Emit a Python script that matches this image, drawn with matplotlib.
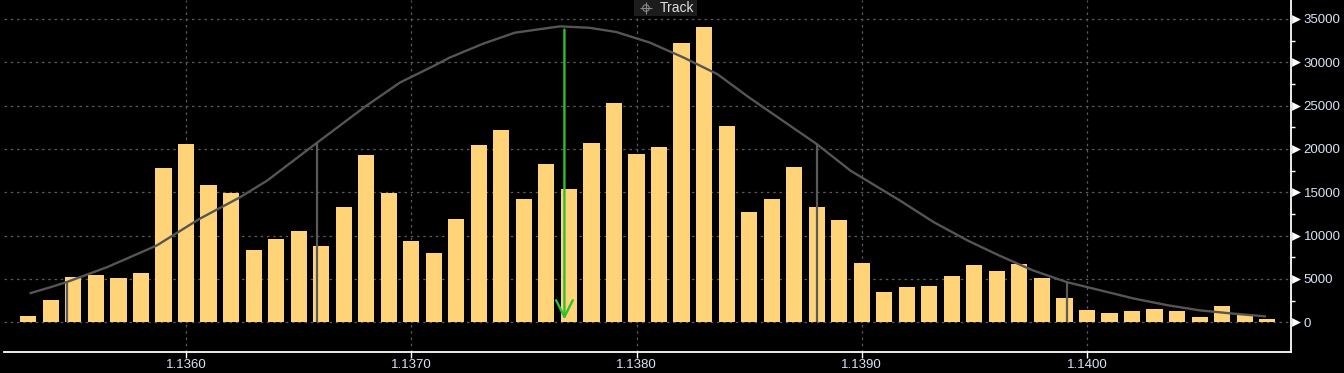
import numpy as np
import matplotlib.pyplot as plt
from matplotlib.patches import Rectangle
from matplotlib.transforms import blended_transform_factory

# volume profile bars (price bucket centres, volume)
bar_start = 1.1353
bar_step = 0.0001
volumes = [690, 2530, 5180, 5410, 5065, 5640, 17840, 20600, 15890, 14890,
           8290, 9555, 10590, 8750, 13350, 19340, 14890, 9325, 7940, 11970,
           20490, 22220, 14275, 18300, 15425, 20720, 25325, 19455, 20260, 32230,
           34070, 22680, 12780, 14275, 17960, 13350, 11860, 6790, 3455, 4030,
           4145, 5295, 6560, 5870, 6680, 5065, 2760, 1380, 1036, 1266,
           1500, 1266, 575, 1840, 920, 345]
prices = [round(bar_start + i * bar_step, 4) for i in range(len(volumes))]

# fitted distribution curve
curve_x = [1.13531, 1.13540, 1.13547, 1.13565, 1.13587, 1.13606, 1.13624, 1.13636,
           1.13658, 1.13680, 1.13695, 1.13710, 1.13717, 1.13732, 1.13746, 1.13766,
           1.13779, 1.13791, 1.13806, 1.13821, 1.13836, 1.13850, 1.13865, 1.13880,
           1.13895, 1.13917, 1.13932, 1.13947, 1.13961, 1.13976, 1.13991, 1.14006,
           1.14021, 1.14036, 1.14050, 1.14065, 1.14079]
curve_y = [3373, 4065, 4640, 6366, 8865, 11940, 14430, 16350,
           20690, 24980, 27670, 29590, 30540, 32160, 33420, 34150,
           33990, 33500, 32270, 30540, 28620, 25940, 23250, 20570,
           17500, 14045, 11550, 9440, 7710, 5990, 4640, 3685,
           2730, 1960, 1380, 1000, 690]

mean_price = 1.13768
peak_value = 34100
sigma_x = [1.13547, 1.13658, 1.13880, 1.13991]
sigma_y = [4640, 20690, 20570, 4640]

x_ticks = [1.1360, 1.1370, 1.1380, 1.1390, 1.1400]
y_ticks = [0, 5000, 10000, 15000, 20000, 25000, 30000, 35000]

text_col = '#d8e4f4'
plt.rcParams['font.family'] = ['Liberation Sans', 'DejaVu Sans']

fig = plt.figure(figsize=(13.44, 3.73), dpi=100, facecolor='black')
ax = fig.add_axes([0.003, 0.0563, 0.9576, 0.9437])
ax.set_facecolor('black')

ax.bar(prices, volumes, width=0.0000715, color='#FFD479', zorder=2)
ax.plot(curve_x, curve_y, color='#555555', lw=1.7, zorder=3)
ax.vlines(sigma_x, 0, sigma_y, color='#5a5a5a', lw=1.6, zorder=3)
ax.annotate('', xy=(mean_price, 0), xytext=(mean_price, peak_value),
            arrowprops=dict(arrowstyle='->,head_length=1.2,head_width=0.6',
                            color='#2fbf2f', lw=1.7), zorder=4)

ax.set_xlim(1.135192, 1.140906)
ax.set_ylim(-3427, 37192)
ax.set_xticks(x_ticks)
ax.set_xticklabels(['%.4f' % t for t in x_ticks])
ax.set_yticks(y_ticks)
ax.set_yticklabels([str(t) for t in y_ticks])
ax.set_yticks(np.arange(2500, 37500, 5000), minor=True)
ax.yaxis.tick_right()
ax.grid(True, color='#5a5a5a', ls=(0, (2, 3)), lw=0.9, zorder=1)

for s in ['left', 'top']:
    ax.spines[s].set_visible(False)
ax.spines['bottom'].set_color('white')
ax.spines['right'].set_color('white')
ax.spines['bottom'].set_linewidth(1.3)
ax.spines['right'].set_linewidth(1.3)

ax.tick_params(axis='x', colors='white', length=4, width=1, labelcolor=text_col,
               labelsize=9.5, pad=1)
ax.tick_params(axis='y', which='major', length=0, labelcolor=text_col,
               labelsize=9.5, pad=9)
ax.tick_params(axis='y', which='minor', colors='white', length=3, width=1)

# triangle markers on the right axis
trans = blended_transform_factory(ax.transAxes, ax.transData)
ax.scatter([1.004] * len(y_ticks), y_ticks, marker='>', s=40, color='white',
           transform=trans, clip_on=False, zorder=5, linewidths=0)

# "Track" label
ax.add_patch(Rectangle((0.4895, 0.9545), 0.049, 0.0455, transform=ax.transAxes,
                       fc='#1c1c1c', ec='none', clip_on=False, zorder=6))
ax.text(0.5097, 0.977, 'Track', transform=ax.transAxes, ha='left', va='center',
        fontsize=10, color='#e0e0e0', zorder=7)
ax.scatter([0.4988], [0.977], marker='o', s=22, facecolors='none', edgecolors='#888888',
           linewidths=0.8, transform=ax.transAxes, clip_on=False, zorder=7)
ax.scatter([0.4988], [0.977], marker='+', s=70, color='#888888',
           linewidths=0.8, transform=ax.transAxes, clip_on=False, zorder=7)

fig.savefig('out.png', dpi=100, facecolor='black')
